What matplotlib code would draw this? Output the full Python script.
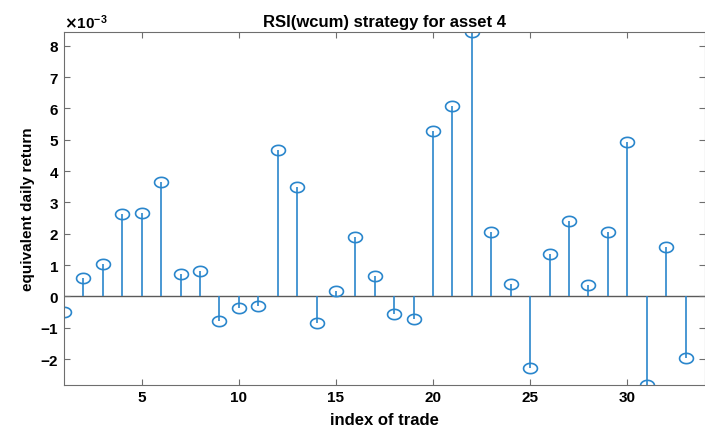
import matplotlib.pyplot as plt
import numpy as np
from matplotlib.path import Path

plt.rcParams['font.family'] = ['Liberation Sans', 'DejaVu Sans']
plt.rcParams['font.weight'] = 'bold'

# trade index and equivalent daily return (x 1e-3)
trade = np.arange(1, 34)
ret = [-0.51, 0.60, 1.02, 2.64, 2.67, 3.66, 0.70, 0.80, -0.80, -0.38,
       -0.32, 4.68, 3.50, -0.86, 0.16, 1.91, 0.64, -0.57, -0.73, 5.29,
       6.08, 8.44, 2.04, 0.38, -2.29, 1.34, 2.42, 0.35, 2.07, 4.94,
       -2.83, 1.59, -1.97]
ret = np.array(ret) * 1e-3

# slightly wide ellipse, like the stretched screenshot
t = np.linspace(0, 2 * np.pi, 40)
ellipse = Path(np.column_stack([1.35 * np.cos(t), np.sin(t)]), closed=True)

fig = plt.figure(figsize=(7.05, 4.27), dpi=100)
ax = fig.add_axes([64 / 705, 41 / 427, 641 / 705, 353 / 427])

blue = '#2a86cc'
ml, sl, bl = ax.stem(trade, ret, basefmt=' ')
plt.setp(sl, color=blue, linewidth=1.2)
plt.setp(ml, color=blue, marker=ellipse, markerfacecolor='none',
         markersize=10, markeredgewidth=1.2)
ax.axhline(0, color='#5a5a5a', linewidth=1.0, zorder=0)

ax.set_xlim(1, 34)
ax.set_ylim(ret.min(), ret.max())
ax.set_xticks([5, 10, 15, 20, 25, 30])
ax.set_yticks(np.arange(-2, 9) * 1e-3)
ax.ticklabel_format(axis='y', style='sci', scilimits=(-3, -3), useMathText=True)
ax.yaxis.get_offset_text().set_fontsize(11)

for s in ax.spines.values():
    s.set_color('#6e6e6e')
ax.tick_params(direction='in', top=True, right=True, colors='#6e6e6e',
               labelcolor='black', labelsize=11, length=4)

ax.set_title('RSI(wcum) strategy for asset 4', fontsize=12, fontweight='bold', pad=4)
ax.set_xlabel('index of trade', fontsize=12, fontweight='bold', labelpad=6)
ax.set_ylabel('equivalent daily return', fontsize=11, fontweight='bold', labelpad=4)

fig.savefig('out.png', dpi=100)
